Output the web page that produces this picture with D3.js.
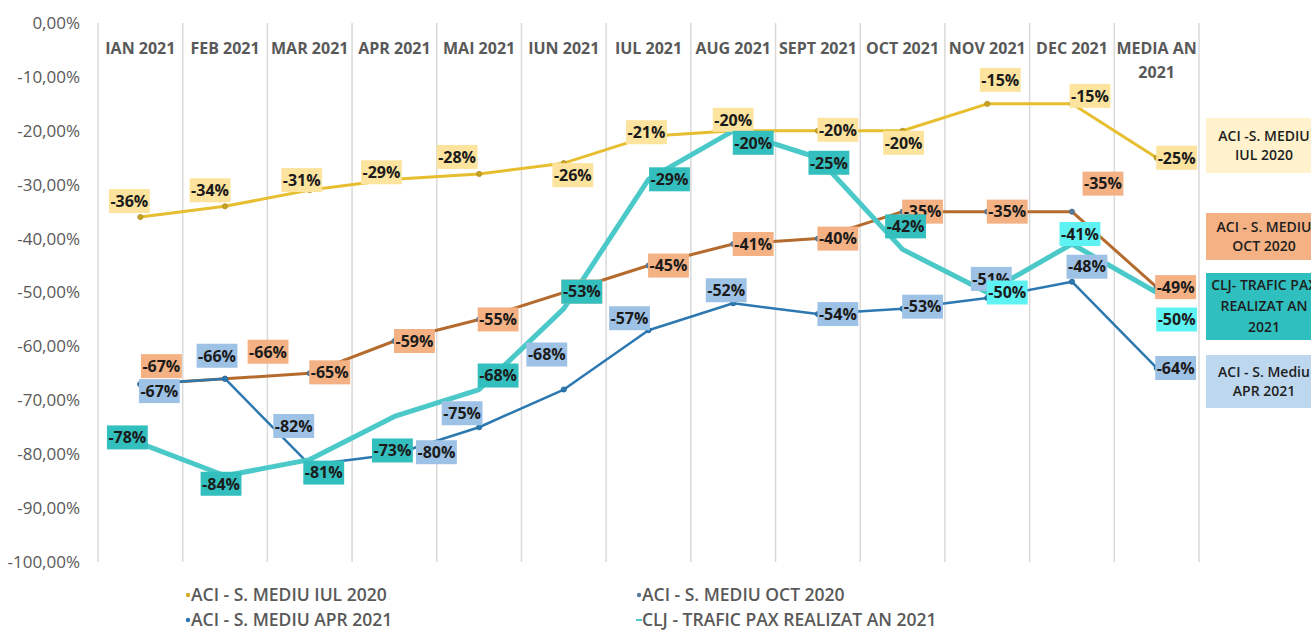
<!DOCTYPE html>
<html>
<head>
<meta charset="utf-8">
<script src="https://cdn.jsdelivr.net/npm/d3@7"></script>
<style>
  html, body { margin: 0; padding: 0; background: #fff; }
  svg { display: block; font-family: "Open Sans", sans-serif; }
</style>
</head>
<body>
<svg id="chart" width="1311" height="630"></svg>
<script>
// ---------- DATA ----------
const categories = ["IAN 2021","FEB 2021","MAR 2021","APR 2021","MAI 2021","IUN 2021","IUL 2021","AUG 2021","SEPT 2021","OCT 2021","NOV 2021","DEC 2021","MEDIA AN 2021"];
const seriesNames = ["ACI - S. MEDIU IUL 2020","ACI - S. MEDIU OCT 2020","ACI - S. MEDIU APR 2021","CLJ - TRAFIC PAX REALIZAT AN 2021"];
const iul2020 = [-36,-34,-31,-29,-28,-26,-21,-20,-20,-20,-15,-15,-25];
const oct2020 = [-67,-66,-65,-59,-55,-50,-45,-41,-40,-35,-35,-35,-49];
const apr2021 = [-67,-66,-82,-80,-75,-68,-57,-52,-54,-53,-51,-48,-64];
const clj2021 = [-78,-84,-81,-73,-68,-53,-29,-20,-25,-42,-50,-41,-50];
const yTicks = [0,-10,-20,-30,-40,-50,-60,-70,-80,-90,-100];
const sideLabels = [
  ["ACI -S. MEDIU","IUL 2020"],
  ["ACI - S. MEDIU","OCT 2020"],
  ["CLJ- TRAFIC PAX","REALIZAT AN","2021"],
  ["ACI - S. Mediu","APR 2021"]
];

// ---------- LAYOUT (label offsets from point, px) ----------
const offIul = [[-11,-16],[-15,-16],[-8,-10],[-13,-7],[-22,-17],[9,12],[-2,-4],[0,-11],[20,-1],[1,12],[13,-24],[18,-8],[20,0]];
const offOct = [[21,-18],[43,-27],[20,-1],[20,0],[19,0],[18,-1],[20,0],[20,0],[20,0],[20,0],[20,0],[31,-28],[19,0]];
const offApr = [[19,7],[-8,-23],[-16,-39],[42,-2],[-17,-14],[-17,-35],[-19,-12],[-7,-13],[20,0],[20,-2],[4,-19],[15,-15],[19,0]];
const offClj = [[-13,-6],[-4,8],[14,13],[-2,34],[19,-14],[18,-17],[21,0],[20,12],[11,5],[3,-23],[20,0],[8,-10],[20,27]];
const cljBright = [false,false,false,false,false,false,false,false,false,false,true,true,true];

const series = [
  {name: seriesNames[0], values: iul2020, off: offIul, line: "#E6BE30", width: 3, marker: "#C9A326", label: "#FCE39E", legend: "dot", legendColor: "#D4AE2A"},
  {name: seriesNames[1], values: oct2020, off: offOct, line: "#B56B2E", width: 3, marker: "#5A7C9C", label: "#F4B183", legend: "dot", legendColor: "#5A7C9C"},
  {name: seriesNames[2], values: apr2021, off: offApr, line: "#2C78B0", width: 2.5, marker: "#2C78B0", label: "#9EC2E5", legend: "dot", legendColor: "#2E75B6"},
  {name: seriesNames[3], values: clj2021, off: offClj, line: "#4BC9C9", width: 5, marker: null, label: "#33BFBD", legend: "dash", legendColor: "#4BC9C9"}
];

const svg = d3.select("#chart");
const x = d3.scalePoint().domain(categories).range([98, 1199]).padding(0.5);
const y = d3.scaleLinear().domain([0, -100]).range([23, 562]);
const step = x.step();

// vertical gridlines at category boundaries
const bounds = d3.range(categories.length + 1).map(i => 98 + i * step);
svg.append("g").selectAll("line").data(bounds).join("line")
  .attr("x1", d => d).attr("x2", d => d)
  .attr("y1", y(0)).attr("y2", y(-100))
  .attr("stroke", "#D9D9D9").attr("stroke-width", 1.5);

// y axis labels
const fmt = v => d3.format(".2f")(v).replace(".", ",").replace("−", "-") + "%";
const yAxis = d3.axisLeft(y).tickValues(yTicks).tickFormat(fmt).tickSize(0).tickPadding(0);
const gy = svg.append("g").attr("transform", "translate(80,0)").call(yAxis);
gy.select(".domain").remove();
gy.selectAll("text").attr("font-size", 17).attr("fill", "#595959")
  .attr("font-family", "Open Sans");

// category labels (top)
const gc = svg.append("g");
categories.forEach(c => {
  const parts = c === "MEDIA AN 2021" ? ["MEDIA AN", "2021"] : [c];
  parts.forEach((p, i) => {
    gc.append("text").attr("x", x(c)).attr("y", 48 + i * 24).attr("dy", "0.35em")
      .attr("text-anchor", "middle").attr("font-size", 16).attr("font-weight", 700)
      .attr("fill", "#595959").text(p);
  });
});

// lines
const lineGen = d3.line().x((d, i) => x(categories[i])).y(d => y(d));
series.forEach(s => {
  svg.append("path").datum(s.values).attr("d", lineGen)
    .attr("fill", "none").attr("stroke", s.line).attr("stroke-width", s.width)
    .attr("stroke-linejoin", "round");
  if (s.marker) {
    svg.append("g").selectAll("circle").data(s.values).join("circle")
      .attr("cx", (d, i) => x(categories[i])).attr("cy", d => y(d)).attr("r", 2.6)
      .attr("fill", s.marker).attr("stroke", d3.color(s.marker).darker(0.4)).attr("stroke-width", 0.8);
  }
});

// data labels
series.forEach((s, si) => {
  const g = svg.append("g");
  s.values.forEach((v, i) => {
    const cx = x(categories[i]) + s.off[i][0];
    const cy = y(v) + s.off[i][1];
    const t = g.append("text").attr("x", cx).attr("y", cy).attr("dy", "0.36em")
      .attr("text-anchor", "middle").attr("font-size", 16).attr("font-weight", 700)
      .attr("fill", "#1b1b1b").text(v + "%");
    const w = t.node().getComputedTextLength() + 3;
    const bg = si === 3 && cljBright[i] ? "#5EF2F2" : s.label;
    g.insert("rect", function() { return t.node(); })
      .attr("x", cx - w / 2).attr("y", cy - 12).attr("width", w).attr("height", 24)
      .attr("fill", bg);
  });
});

// side labels (right)
const sideBoxes = [
  {y: 118, h: 55, fill: "#FFF2CC"},
  {y: 213, h: 47, fill: "#F4B183"},
  {y: 273, h: 67, fill: "#30BFBF"},
  {y: 355, h: 53, fill: "#BDD7EE"}
];
sideLabels.forEach((lines, k) => {
  const b = sideBoxes[k];
  svg.append("rect").attr("x", 1206).attr("y", b.y).attr("width", 120).attr("height", b.h).attr("fill", b.fill);
  const lh = lines.length === 3 ? 21 : 19.5;
  const top = b.y + b.h / 2 - (lines.length - 1) * lh / 2;
  lines.forEach((l, j) => {
    svg.append("text").attr("x", 1264).attr("y", top + j * lh).attr("dy", "0.35em")
      .attr("text-anchor", "middle").attr("font-size", 14).attr("font-weight", 600)
      .attr("fill", "#1e1e1e").text(l);
  });
});

// legend (bottom)
const legendPos = [[191, 595], [642, 595], [191, 620], [642, 620]];
series.forEach((s, i) => {
  const [lx, ly] = legendPos[i];
  if (s.legend === "dot") {
    svg.append("circle").attr("cx", lx - 3).attr("cy", ly).attr("r", 2.2).attr("fill", s.legendColor);
  } else {
    svg.append("line").attr("x1", lx - 6).attr("x2", lx).attr("y1", ly).attr("y2", ly)
      .attr("stroke", s.legendColor).attr("stroke-width", 2);
  }
  svg.append("text").attr("x", lx).attr("y", ly).attr("dy", "0.35em")
    .attr("font-size", 17.5).attr("font-weight", 600).attr("fill", "#595959").text(s.name);
});
</script>
</body>
</html>
